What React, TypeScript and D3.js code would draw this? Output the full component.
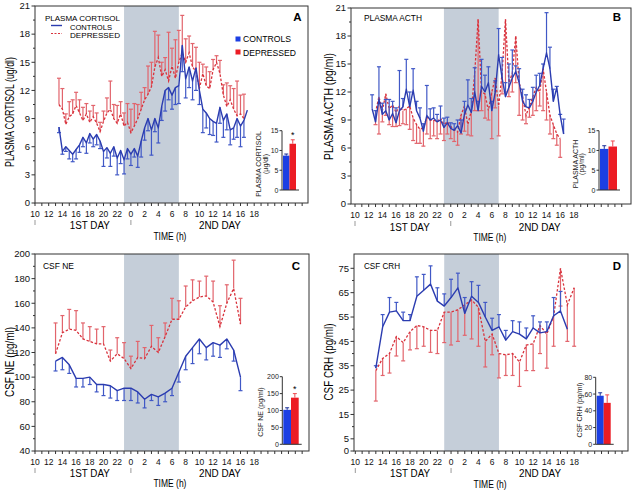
import React from "react";
import * as d3 from "d3";

const FONT = "'Liberation Sans', Arial, Helvetica, sans-serif";
const C_BLUE_LINE = "#2b3cb0";
const C_BLUE_ERR = "#4058c6";
const C_RED_LINE = "#d8323c";
const C_RED_ERR = "#e2646c";
const C_SHADE = "#c5ced9";
const C_AXIS = "#333333";
const C_INSET_BLUE = "#1c3fe3";
const C_INSET_RED = "#ec1c24";

// ---------- Panel A: plasma cortisol (ug/dl), 30-min samples (hours from midnight of day 1) ----------
const cortisolControlHours = [13.5,14,14.5,15,15.5,16,16.5,17,17.5,18,18.5,19,19.5,20,20.5,21,21.5,22,22.5,23,23.5,24,24.5,25,25.5,26,26.5,27,27.5,28,28.5,29,29.5,30,30.5,31,31.5,32,32.5,33,33.5,34,34.5,35,35.5,36,36.5,37,37.5,38,38.5,39,39.5,40,40.5,41];
const cortisolControlMean = [8.1,5.5,6.0,5.6,5.2,5.7,6.2,7.0,6.4,7.4,6.8,7.3,6.6,5.5,5.9,5.3,6.0,4.8,5.6,4.6,5.8,5.2,5.8,5.0,6.6,8.0,9.0,7.8,9.0,8.0,10.3,12.0,12.3,11.5,12.3,12.5,16.8,13.2,14.5,13.0,14.4,12.0,10.0,9.6,9.0,8.7,8.5,10.2,8.8,9.5,7.8,8.0,9.0,8.2,8.8,9.9];
const cortisolControlSem = [0.6,0.3,0.5,0.9,0.8,1.0,0.8,1.0,1.1,1.0,0.8,1.1,0.8,1.6,1.1,1.4,1.0,1.8,1.4,1.5,1.1,1.2,0.9,1.2,1.7,1.3,1.3,2.7,1.4,1.6,1.5,2.2,1.3,1.5,1.8,1.9,2.8,2.0,2.2,2.0,2.4,1.5,2.5,1.6,1.7,1.5,2.0,1.7,1.8,1.7,1.6,1.2,2.0,2.2,1.8,0];
const cortisolDepressedHours = [13.5,14,14.5,15,15.5,16,16.5,17,17.5,18,18.5,19,19.5,20,20.5,21,21.5,22,22.5,23,23.5,24,24.5,25,25.5,26,26.5,27,27.5,28,28.5,29,29.5,30,30.5,31,31.5,32,32.5,33,33.5,34,34.5,35,35.5,36,36.5,37,37.5,38,38.5,39,39.5,40,40.5];
const cortisolDepressedMean = [10.5,10.0,8.4,9.2,9.5,10.4,9.6,8.8,9.5,8.6,9.2,8.5,7.6,8.7,9.6,10.0,9.0,8.5,9.5,8.2,8.6,7.5,8.2,9.0,10.0,11.0,11.6,12.4,14.5,15.5,13.5,14.2,13.0,14.6,13.3,15.0,16.0,15.0,16.0,14.5,14.0,12.2,13.8,12.5,12.2,14.2,15.0,13.8,11.5,10.3,11.0,10.0,9.3,9.5,9.0];
const cortisolDepressedSem = [2.8,2.2,1.1,1.6,1.5,1.4,1.4,1.4,1.1,1.2,1.2,1.1,1.0,1.1,1.6,3.0,1.5,1.9,1.3,1.4,2.0,2.5,2.4,1.5,1.8,1.3,3.0,2.6,3.8,2.4,1.5,1.3,5.2,1.9,4.1,3.4,4.0,2.5,1.8,2.5,2.6,2.8,1.0,2.0,1.8,1.1,0.7,1.4,1.1,2.5,1.5,2.2,3.7,2.0,2.6];
const cortisolInsetMean = [8.7, 11.7];
const cortisolInsetSem = [0.4, 1.0];

// ---------- Panel B: plasma ACTH (pg/ml), 30-min samples ----------
const acthControlHours = [12.5,13,13.5,14,14.5,15,15.5,16,16.5,17,17.5,18,18.5,19,19.5,20,20.5,21,21.5,22,22.5,23,23.5,24,24.5,25,25.5,26,26.5,27,27.5,28,28.5,29,29.5,30,30.5,31,31.5,32,32.5,33,33.5,34,34.5,35,35.5,36,36.5,37,37.5,38,38.5,39,39.5,40,40.5];
const acthControlMean = [10.2,8.8,11.2,9.6,10.0,9.0,9.7,8.7,10.0,10.4,12.3,10.4,12.2,10.0,9.2,7.8,9.5,9.0,9.2,8.8,9.0,8.2,8.7,8.1,7.9,8.4,7.6,9.6,10.6,9.8,12.0,10.0,12.6,12.0,13.0,10.0,12.0,16.0,13.5,11.5,12.5,13.5,14.2,13.0,11.0,10.4,10.3,11.0,12.0,12.7,14.5,16.2,14.5,11.0,12.5,9.5,7.5];
const acthControlSem = [1.5,1.2,3.5,1.2,1.2,2.2,1.3,1.6,4.3,0.9,3.2,1.6,2.3,1.0,1.1,0.8,3.2,1.2,1.1,0.8,1.5,1.0,0.6,0.6,0.7,0.6,1.4,1.4,2.7,1.5,2.6,1.0,2.9,1.8,1.7,1.0,1.2,2.8,2.2,1.5,2.5,3.0,0.6,1.5,1.3,1.3,0.9,1.5,1.8,1.3,0.5,4.3,2.3,1.3,0.1,0.1,1.6];
const acthDepressedHours = [13,13.5,14,14.5,15,15.5,16,16.5,17,17.5,18,18.5,19,19.5,20,20.5,21,21.5,22,22.5,23,23.5,24,24.5,25,25.5,26,26.5,27,27.5,28,28.5,29,29.5,30,30.5,31,31.5,32,32.5,33,33.5,34,34.5,35,35.5,36,36.5,37,37.5,38,38.5,39,39.5,40];
const acthDepressedMean = [9.8,11.5,10.0,11.8,10.2,10.6,9.8,10.5,10.0,10.2,10.5,9.2,8.5,8.0,8.2,9.3,9.0,9.0,8.8,9.2,8.5,8.8,8.3,8.0,7.7,9.5,10.5,8.5,10.0,14.0,19.8,12.0,11.8,10.0,12.0,13.5,10.5,14.0,19.8,13.0,14.0,18.0,13.0,11.5,9.5,10.5,11.5,12.5,12.0,14.5,12.0,9.5,8.5,7.5,7.0];
const acthDepressedSem = [1.3,4.0,1.2,2.3,1.7,2.3,1.5,2.1,1.4,1.7,2.5,2.4,2.0,1.5,2.0,1.8,2.0,1.7,1.8,1.7,1.7,1.3,1.3,1.3,1.4,2.0,2.7,1.1,2.7,4.0,9.8,2.0,2.6,1.0,5.0,3.2,3.2,2.2,7.8,1.5,2.0,5.0,3.5,2.5,0.9,1.2,2.0,2.5,1.5,4.5,3.0,2.0,1.5,1.2,2.0];
const acthInsetMean = [10.4, 11.0];
const acthInsetSem = [0.8, 1.4];

// ---------- Panel C: CSF NE (pg/ml), hourly ----------
const neHours = [13,14,15,16,17,18,19,20,21,22,23,24,25,26,27,28,29,30,31,32,33,34,35,36,37,38,39,40];
const neControlMean = [113,116,110,99,99,100,94,94,93,89,91,91,88,82,86,84,87,91,104,117,124,131,124,128,126,131,122,100];
const neControlSem = [8,10,7,7,7,6,6,9,10,8,10,10,9,7,5,7,7,6,8,11,13,12,10,11,10,8,9,11];
const neDepressedMean = [119,136,139,138,131,129,127,127,113,119,115,107,116,115,125,120,133,147,147,157,162,165,166,161,141,160,172,143];
const neDepressedSem = [25,14,16,16,13,12,12,14,9,13,13,10,13,9,17,12,11,17,15,17,17,13,16,17,17,15,23,21];
const neInsetMean = [102, 138];
const neInsetSem = [6, 12];

// ---------- Panel D: CSF CRH (pg/ml), hourly ----------
const crhControlHours = [13,14,15,16,17,18,19,20,21,22,23,24,25,26,27,28,29,30,31,32,33,34,35,36,37,38,39,40,41];
const crhControlMean = [34,51,57,57.5,53.5,53.5,63.5,66,68.5,61.5,59.5,63,67,56.5,63.5,61,55,49.5,51,45.5,49,48,46,50.5,48.5,49,55.5,57.5,50];
const crhControlSem = [1,5,6,3.5,3.5,2.5,8,6.5,7.5,5.5,5,7.5,6,6.5,6,7,6,5,5,4,4.5,5,4.5,5,4.5,4,7.5,8,0];
const crhDepressedHours = [13,14,15,16,17,18,19,20,21,22,23,24,25,26,27,28,29,30,31,32,33,34,35,36,37,38,39,40,41,42];
const crhDepressedMean = [33,38,40,47,44.5,49,51.5,51,49.5,49.5,57,57,58,60,62,59,45,48,40,39.5,40,36.5,43.5,44,51.5,48,55.5,75,60,67];
const crhDepressedSem = [12.5,7,8,8,7.5,7.5,9.5,8,9,9.5,12.5,13.5,13,12.5,16,16,10.5,8.5,10,8.5,9,10,10.5,11,11.5,14,12.5,15.5,15,24];
const crhInsetMean = [58, 49.5];
const crhInsetSem = [3.5, 9.5];

// axis ticks
const cortisolTicks = [0, 3, 6, 9, 12, 15, 18, 21];
const cortisolMinor = [1.5, 4.5, 7.5, 10.5, 13.5, 16.5, 19.5];
const neTicks = [40, 60, 80, 100, 120, 140, 160, 180, 200];
const neMinor = [50, 70, 90, 110, 130, 150, 170, 190];
const crhTicks = [0, 5, 15, 25, 35, 45, 55, 65, 75];
const crhMinor = [10, 20, 30, 40, 50, 60, 70];
const groups = ["CONTROLS", "DEPRESSED"];

type Series = { hours: number[]; mean: number[]; sem: number[]; dir: number };
type Inset = {
  axisX: number; base: number; top: number; max: number; ticks: number[];
  barW: number; mean: number[]; sem: number[]; star: boolean;
  labels: string[]; labelX: number[]; labelY: number;
};
type PanelCfg = {
  left: number; right: number; top: number; bottom: number;
  x10: number; pph: number;
  yDomain: [number, number]; yRange: [number, number];
  yTicks: number[]; yMinor: number[];
  yTitle: string; yTitleX: number; yTitleY: number; yTitleLen: number;
  title?: string; titleX?: number; titleY?: number; titleLen?: number;
  letter: string; letterX: number; letterY: number;
  blue: Series; red: Series;
  off: [number, number, number];
  inset: Inset;
};

function InsetBars({ s }: { s: Inset }) {
  const y = d3.scaleLinear().domain([0, s.max]).range([s.base, s.top]);
  const xb = d3.scaleBand().domain(groups).range([s.axisX + 1, s.axisX + 1 + 2 * s.barW]).padding(0);
  const cols = [C_INSET_BLUE, C_INSET_RED];
  const errCols = ["#1a2f9a", "#ee4a50"];
  return (
    <g>
      {groups.map((g, i) => {
        const bx = xb(g) as number;
        const cx = bx + xb.bandwidth() / 2;
        const yt = y(s.mean[i] + s.sem[i]);
        return (
          <g key={g}>
            <rect x={bx} y={y(s.mean[i])} width={xb.bandwidth()} height={s.base - y(s.mean[i])} fill={cols[i]} />
            <line x1={cx} x2={cx} y1={y(s.mean[i])} y2={yt} stroke={errCols[i]} strokeWidth={1} />
            <line x1={cx - 2} x2={cx + 2} y1={yt} y2={yt} stroke={errCols[i]} strokeWidth={1} />
            {i === 1 && s.star ? (
              <text x={cx} y={yt - 2} textAnchor="middle" fontSize={9} fontFamily={FONT}>*</text>
            ) : null}
          </g>
        );
      })}
      <line x1={s.axisX} x2={s.axisX} y1={s.base} y2={s.top} stroke={C_AXIS} strokeWidth={1} />
      <line x1={s.axisX} x2={s.axisX + 2 * s.barW + 4} y1={s.base} y2={s.base} stroke={C_AXIS} strokeWidth={1} />
      {s.ticks.map((t) => (
        <g key={t}>
          <line x1={s.axisX - 2.5} x2={s.axisX} y1={y(t)} y2={y(t)} stroke={C_AXIS} strokeWidth={1} />
          <text x={s.axisX - 3.5} y={y(t) + 2.5} textAnchor="end" fontSize={7} fontFamily={FONT} fill="#222">{t}</text>
        </g>
      ))}
      {s.labels.map((l, i) => (
        <text key={l} transform={`translate(${s.labelX[i]},${s.labelY}) rotate(-90)`} textAnchor="middle" fontSize={7} fontFamily={FONT} fill="#222">{l}</text>
      ))}
    </g>
  );
}

function Panel({ p }: { p: PanelCfg }) {
  const x = d3.scaleLinear().domain([10, 50]).range([p.x10, p.x10 + 40 * p.pph]);
  const y = d3.scaleLinear().domain(p.yDomain).range(p.yRange);
  const path = (s: Series) =>
    d3.line<number>().x((_, i) => x(s.hours[i])).y((v) => y(v))(s.mean) || "";
  const bars = (s: Series, color: string) =>
    s.mean.map((m, i) => {
      if (s.sem[i] <= 0) return null;
      const cx = x(s.hours[i]);
      const y0 = y(m);
      const y1 = y(m + s.dir * s.sem[i]);
      return (
        <g key={i}>
          <line x1={cx} x2={cx} y1={y0} y2={y1} stroke={color} strokeWidth={1.2} />
          <line x1={cx - 2} x2={cx + 2} y1={y1} y2={y1} stroke={color} strokeWidth={1.2} />
        </g>
      );
    });
  const tickHours = d3.range(10, 50);
  const labelHours = d3.range(10, 43, 2);
  const b = p.bottom;
  return (
    <g>
      <rect x={x(23)} y={p.top} width={x(31) - x(23)} height={p.bottom - p.top} fill={C_SHADE} />
      <rect x={p.left} y={p.top} width={p.right - p.left} height={p.bottom - p.top} fill="none" stroke={C_AXIS} strokeWidth={1} />
      {p.yTicks.map((t) => (
        <g key={t}>
          <line x1={p.left - 3.5} x2={p.left} y1={y(t)} y2={y(t)} stroke={C_AXIS} strokeWidth={1} />
          <text x={p.left - 5} y={y(t) + 3.3} textAnchor="end" fontSize={9.5} fontFamily={FONT} fill="#111">{t}</text>
        </g>
      ))}
      {p.yMinor.map((t) => (
        <line key={t} x1={p.left - 2} x2={p.left} y1={y(t)} y2={y(t)} stroke={C_AXIS} strokeWidth={1} />
      ))}
      {tickHours.map((h) => (
        <line key={h} x1={x(h)} x2={x(h)} y1={b} y2={b + 3} stroke={C_AXIS} strokeWidth={1} />
      ))}
      {labelHours.map((h) => (
        <text key={h} x={x(h)} y={b + p.off[0]} textAnchor="middle" fontSize={8.5} fontFamily={FONT} fill="#111">{h < 24 ? h : h - 24}</text>
      ))}
      {[10, 24].map((h) => (
        <line key={h} x1={x(h)} x2={x(h)} y1={b + 17} y2={b + 22} stroke="#999" strokeWidth={1} />
      ))}
      <text x={x(18)} y={b + p.off[1]} textAnchor="middle" fontSize={10} fontFamily={FONT} textLength={40} lengthAdjust="spacingAndGlyphs">1ST DAY</text>
      <text x={x(37)} y={b + p.off[1]} textAnchor="middle" fontSize={10} fontFamily={FONT} textLength={42} lengthAdjust="spacingAndGlyphs">2ND DAY</text>
      <text x={x(29.7)} y={b + p.off[2]} textAnchor="middle" fontSize={10} fontFamily={FONT} textLength={33} lengthAdjust="spacingAndGlyphs">TIME (h)</text>
      <text transform={`translate(${p.yTitleX},${p.yTitleY}) rotate(-90)`} textAnchor="middle" fontSize={12.5} fontFamily={FONT} textLength={p.yTitleLen} lengthAdjust="spacingAndGlyphs">{p.yTitle}</text>
      {p.title ? (
        <text x={p.titleX} y={p.titleY} fontSize={9} fontFamily={FONT} textLength={p.titleLen} lengthAdjust="spacingAndGlyphs">{p.title}</text>
      ) : null}
      <text x={p.letterX} y={p.letterY} textAnchor="middle" fontSize={11.5} fontWeight="bold" fontFamily={FONT}>{p.letter}</text>
      <g>{bars(p.red, C_RED_ERR)}</g>
      <path d={path(p.red)} fill="none" stroke={C_RED_LINE} strokeWidth={1.3} strokeDasharray="2.5,1.8" />
      <g>{bars(p.blue, C_BLUE_ERR)}</g>
      <path d={path(p.blue)} fill="none" stroke={C_BLUE_LINE} strokeWidth={1.4} strokeLinejoin="round" />
      <InsetBars s={p.inset} />
    </g>
  );
}

const panels: PanelCfg[] = [
  {
    left: 35, right: 308, top: 6, bottom: 203, x10: 35, pph: 6.85,
    yDomain: [0, 21], yRange: [203, 6], yTicks: cortisolTicks, yMinor: cortisolMinor,
    yTitle: "PLASMA CORTISOL (ug/dl)", yTitleX: 13.5, yTitleY: 112, yTitleLen: 110,
    letter: "A", letterX: 297.5, letterY: 21,
    blue: { hours: cortisolControlHours, mean: cortisolControlMean, sem: cortisolControlSem, dir: -1 },
    red: { hours: cortisolDepressedHours, mean: cortisolDepressedMean, sem: cortisolDepressedSem, dir: 1 },
    off: [13.5, 26, 37],
    inset: { axisX: 282, base: 190, top: 130.7, max: 15, ticks: [0, 5, 10, 15], barW: 6.5,
      mean: cortisolInsetMean, sem: cortisolInsetSem, star: true,
      labels: ["PLASMA CORTISOL", "(µg/dl)"], labelX: [261, 268], labelY: 164 },
  },
  {
    left: 351, right: 631, top: 8, bottom: 204, x10: 355, pph: 6.84,
    yDomain: [0, 21], yRange: [204, 8], yTicks: cortisolTicks, yMinor: cortisolMinor,
    yTitle: "PLASMA ACTH (pg/ml)", yTitleX: 332.5, yTitleY: 106.5, yTitleLen: 107,
    title: "PLASMA ACTH", titleX: 364, titleY: 21, titleLen: 58,
    letter: "B", letterX: 617, letterY: 21,
    blue: { hours: acthControlHours, mean: acthControlMean, sem: acthControlSem, dir: 1 },
    red: { hours: acthDepressedHours, mean: acthDepressedMean, sem: acthDepressedSem, dir: -1 },
    off: [13.5, 26.5, 36.5],
    inset: { axisX: 599, base: 190, top: 130.7, max: 15, ticks: [0, 5, 10, 15], barW: 8.5,
      mean: acthInsetMean, sem: acthInsetSem, star: false,
      labels: ["PLASMA ACTH", "(pg/ml)"], labelX: [578, 584], labelY: 164 },
  },
  {
    left: 35, right: 309, top: 254, bottom: 451, x10: 35, pph: 6.85,
    yDomain: [40, 200], yRange: [451, 254], yTicks: neTicks, yMinor: neMinor,
    yTitle: "CSF NE (pg/ml)", yTitleX: 14, yTitleY: 362, yTitleLen: 70,
    title: "CSF NE", titleX: 43, titleY: 269, titleLen: 31,
    letter: "C", letterX: 296, letterY: 269.5,
    blue: { hours: neHours, mean: neControlMean, sem: neControlSem, dir: -1 },
    red: { hours: neHours, mean: neDepressedMean, sem: neDepressedSem, dir: 1 },
    off: [13.5, 26, 36],
    inset: { axisX: 282.3, base: 444.3, top: 376.7, max: 200, ticks: [0, 50, 100, 150, 200], barW: 7.7,
      mean: neInsetMean, sem: neInsetSem, star: true,
      labels: ["CSF NE (pg/ml)"], labelX: [263], labelY: 412 },
  },
  {
    left: 354, right: 628, top: 254, bottom: 451, x10: 355.3, pph: 6.84,
    yDomain: [0, 75], yRange: [451, 268.3], yTicks: crhTicks, yMinor: crhMinor,
    yTitle: "CSF CRH (pg/ml)", yTitleX: 333, yTitleY: 362, yTitleLen: 77,
    title: "CSF CRH", titleX: 364, titleY: 269, titleLen: 36,
    letter: "D", letterX: 617, letterY: 269.5,
    blue: { hours: crhControlHours, mean: crhControlMean, sem: crhControlSem, dir: 1 },
    red: { hours: crhDepressedHours, mean: crhDepressedMean, sem: crhDepressedSem, dir: -1 },
    off: [14, 26, 36.5],
    inset: { axisX: 595.7, base: 444.3, top: 377.3, max: 80, ticks: [0, 20, 40, 60, 80], barW: 7,
      mean: crhInsetMean, sem: crhInsetSem, star: false,
      labels: ["CSF CRH (pg/ml)"], labelX: [581.5], labelY: 410 },
  },
];

export default function App() {
  return (
    <svg width={633} height={494} viewBox="0 0 633 494" style={{ position: "absolute", left: 0, top: 0, background: "#fff" }}>
      <rect x={0} y={0} width={633} height={494} fill="#fff" />
      {panels.map((p) => (
        <Panel key={p.letter} p={p} />
      ))}
      <g fontFamily={FONT}>
        <text x={45} y={21.3} fontSize={7.2} textLength={75} lengthAdjust="spacingAndGlyphs">PLASMA CORTISOL</text>
        <line x1={51} x2={62} y1={25.5} y2={25.5} stroke={C_BLUE_LINE} strokeWidth={1.4} />
        <text x={70} y={29.5} fontSize={7.2} textLength={42} lengthAdjust="spacingAndGlyphs">CONTROLS</text>
        <line x1={51} x2={62} y1={33.5} y2={33.5} stroke={C_RED_LINE} strokeWidth={1.2} strokeDasharray="2,1.5" />
        <text x={70} y={37.5} fontSize={7.2} textLength={50} lengthAdjust="spacingAndGlyphs">DEPRESSED</text>
        <rect x={235.5} y={36.5} width={5} height={5} fill={C_INSET_BLUE} />
        <text x={243} y={42.3} fontSize={9} textLength={48} lengthAdjust="spacingAndGlyphs">CONTROLS</text>
        <rect x={235.5} y={49.5} width={5} height={5} fill={C_INSET_RED} />
        <text x={243} y={55.5} fontSize={9} textLength={53} lengthAdjust="spacingAndGlyphs">DEPRESSED</text>
      </g>
    </svg>
  );
}
